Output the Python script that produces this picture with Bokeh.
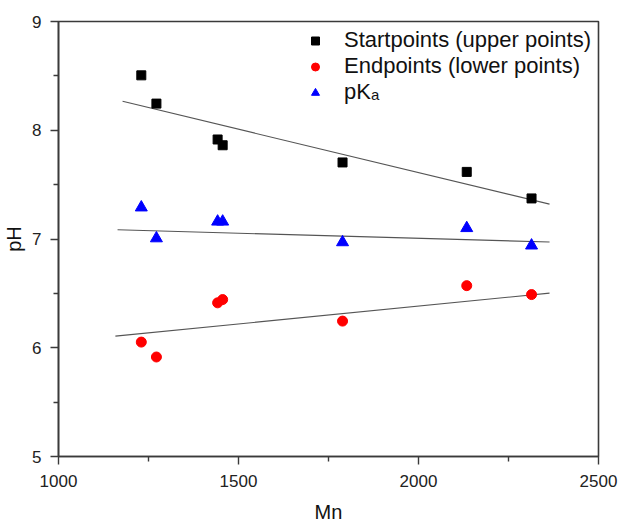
from bokeh.plotting import figure
from bokeh.models import Legend, LegendItem, Range1d, FixedTicker
from bokeh.embed import file_html
from bokeh.resources import INLINE

# Data
mn = [1230, 1272, 1442, 1456, 1789, 2134, 2314]
start_ph = [8.505, 8.245, 7.915, 7.862, 7.704, 7.617, 7.373]
end_ph = [6.052, 5.915, 6.413, 6.443, 6.245, 6.571, 6.489]
pka = [7.29, 7.006, 7.16, 7.16, 6.97, 7.10, 6.94]

# Linear-fit lines (endpoints)
fit_start_x = [1178, 2364]
fit_start_y = [8.266, 7.321]
fit_pka_x = [1164, 2364]
fit_pka_y = [7.085, 6.972]
fit_end_x = [1158, 2364]
fit_end_y = [6.107, 6.502]

x_ticks = [1000, 1500, 2000, 2500]
x_minor = [1250, 1750, 2250]
y_ticks = [5, 6, 7, 8, 9]
y_minor = [5.5, 6.5, 7.5, 8.5]

FONT = "Liberation Sans"
AX = "#3a3a3a"

p = figure(width=620, height=525, output_backend="svg", toolbar_location=None,
           x_range=Range1d(1000, 2500), y_range=Range1d(5, 9),
           min_border_left=58, min_border_right=22, min_border_top=21, min_border_bottom=68)
p.grid.visible = False
p.outline_line_color = AX
p.outline_line_width = 1.6
p.background_fill_color = "white"
p.border_fill_color = "white"

for ax in (p.xaxis[0], p.yaxis[0]):
    ax.axis_line_color = AX
    ax.axis_line_width = 1.6
    ax.major_tick_line_color = AX
    ax.minor_tick_line_color = AX
    ax.major_tick_line_width = 1.4
    ax.minor_tick_line_width = 1.4
    ax.major_tick_in = 0
    ax.major_tick_out = 8
    ax.minor_tick_in = 0
    ax.minor_tick_out = 5
    ax.major_label_text_font = FONT
    ax.major_label_text_font_size = "17px"
    ax.major_label_text_color = "#222222"
    ax.axis_label_text_font = FONT
    ax.axis_label_text_font_size = "20px"
    ax.axis_label_text_font_style = "normal"
    ax.axis_label_text_color = "#111111"

p.xaxis.ticker = FixedTicker(ticks=x_ticks, minor_ticks=x_minor)
p.yaxis.ticker = FixedTicker(ticks=y_ticks, minor_ticks=y_minor)
p.xaxis.axis_label = "Mn"
p.yaxis.axis_label = "pH"
p.xaxis.major_label_standoff = 10
p.yaxis.major_label_standoff = 9
p.xaxis.axis_label_standoff = 11
p.yaxis.axis_label_standoff = 4

line_kw = dict(line_color="#555555", line_width=1.1)
p.line(fit_start_x, fit_start_y, **line_kw)
p.line(fit_pka_x, fit_pka_y, **line_kw)
p.line(fit_end_x, fit_end_y, **line_kw)

r_sq = p.scatter(mn, start_ph, marker="square", size=9, fill_color="black", line_color="black")
r_ci = p.scatter(mn, end_ph, marker="circle", size=10, fill_color="#ff0000", line_color="#ff0000")
r_tr = p.scatter(mn, pka, marker="triangle", size=12, fill_color="#0000ff", line_color="#0000ff")

legend = Legend(items=[
    LegendItem(label="Startpoints (upper points)", renderers=[r_sq]),
    LegendItem(label="Endpoints (lower points)", renderers=[r_ci]),
    LegendItem(label="pK\u2090", renderers=[r_tr]),
], location=(247, 351))
legend.border_line_color = None
legend.background_fill_alpha = 0
legend.padding = 0
legend.margin = 0
legend.spacing = 0
legend.glyph_width = 20
legend.glyph_height = 25
legend.label_height = 25
legend.label_standoff = 19
legend.label_text_font = FONT
legend.label_text_font_size = "22px"
legend.label_text_color = "#111111"
p.add_layout(legend)

open("out.html", "w").write(file_html(p, INLINE))
